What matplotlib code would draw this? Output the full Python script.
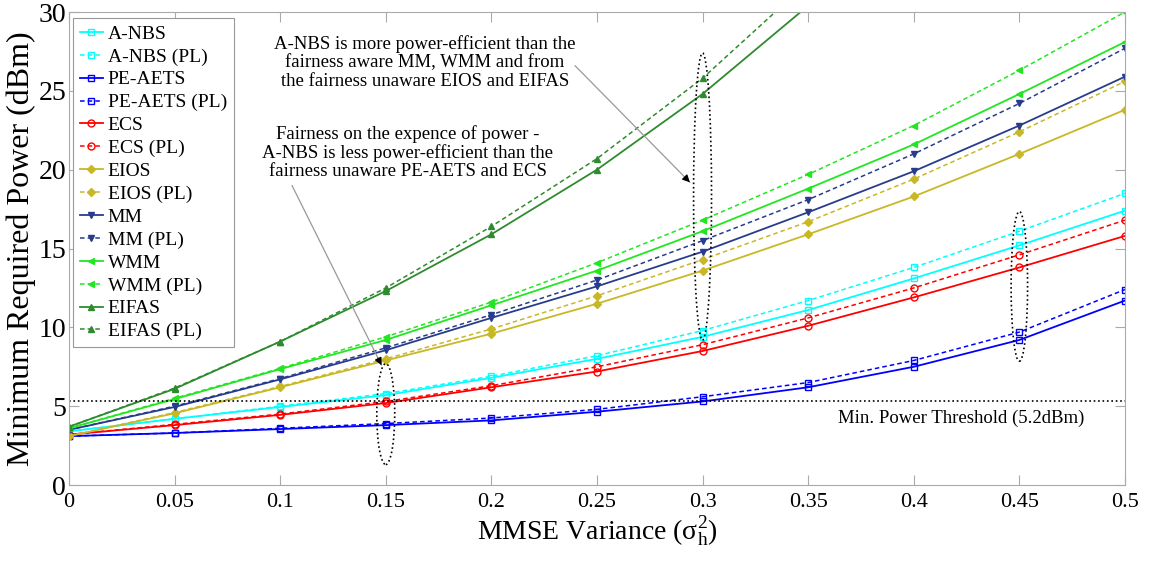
import numpy as np
import matplotlib
matplotlib.use('Agg')
import matplotlib.pyplot as plt
from matplotlib.patches import Ellipse

plt.rcParams['font.family'] = ['Liberation Serif', 'DejaVu Serif']
plt.rcParams['mathtext.fontset'] = 'stix'

x = [0, 0.05, 0.1, 0.15, 0.2, 0.25, 0.3, 0.35, 0.4, 0.45, 0.5]

anbs = [3.4, 4.2, 4.95, 5.7, 6.8, 8.0, 9.4, 11.1, 13.1, 15.2, 17.4]
anbs_pl = [3.4, 4.2, 5.0, 5.8, 6.9, 8.2, 9.8, 11.7, 13.8, 16.1, 18.5]
peaets = [3.1, 3.3, 3.55, 3.8, 4.1, 4.65, 5.3, 6.2, 7.5, 9.2, 11.7]
peaets_pl = [3.1, 3.3, 3.6, 3.9, 4.25, 4.8, 5.6, 6.5, 7.9, 9.7, 12.4]
ecs = [3.2, 3.8, 4.45, 5.2, 6.2, 7.2, 8.5, 10.1, 11.9, 13.8, 15.8]
ecs_pl = [3.2, 3.85, 4.5, 5.3, 6.3, 7.5, 8.9, 10.6, 12.5, 14.6, 16.8]
eios = [3.1, 4.55, 6.2, 7.9, 9.6, 11.5, 13.6, 15.9, 18.3, 21.0, 23.8]
eios_pl = [3.1, 4.6, 6.25, 8.0, 9.9, 12.0, 14.3, 16.7, 19.4, 22.4, 25.6]
mm = [3.5, 4.95, 6.7, 8.55, 10.6, 12.6, 14.8, 17.3, 19.9, 22.8, 25.9]
mm_pl = [3.5, 5.0, 6.75, 8.7, 10.8, 13.0, 15.5, 18.1, 21.0, 24.2, 27.7]
wmm = [3.6, 5.45, 7.35, 9.2, 11.4, 13.6, 16.1, 18.8, 21.6, 24.8, 28.1]
wmm_pl = [3.6, 5.5, 7.4, 9.4, 11.6, 14.1, 16.8, 19.7, 22.8, 26.3, 30.0]
# EIFAS leaves the plot above 30 after 0.3
eifas = [3.7, 6.1, 9.1, 12.3, 15.9, 20.0, 24.8, 30.4, np.nan, np.nan, np.nan]
eifas_pl = [3.7, 6.15, 9.1, 12.5, 16.4, 20.7, 25.8, 31.9, np.nan, np.nan, np.nan]

threshold = 5.3

series = [
    ('A-NBS', anbs, anbs_pl, 'cyan', 's', 'none'),
    ('PE-AETS', peaets, peaets_pl, 'blue', 's', 'none'),
    ('ECS', ecs, ecs_pl, 'red', 'o', 'none'),
    ('EIOS', eios, eios_pl, '#c8b825', 'D', None),
    ('MM', mm, mm_pl, '#283c8c', 'v', None),
    ('WMM', wmm, wmm_pl, '#22e622', '<', None),
    ('EIFAS', eifas, eifas_pl, '#2e8b2e', '^', None),
]

fig = plt.figure(figsize=(11.57, 5.64), dpi=100)
ax = fig.add_axes([0.0596, 0.140, 0.9127, 0.8387])

for name, y, ypl, c, m, fc in series:
    ms = 4.5 if m == 'D' else 5
    ax.plot(x, y, '-', color=c, marker=m, ms=ms, mfc=fc if fc else c,
            mec=c, lw=1.3, label=name)
    ax.plot(x, ypl, '--', color=c, marker=m, ms=ms, mfc=fc if fc else c,
            mec=c, lw=1.1, dashes=(3, 2), label=name + ' (PL)')

ax.axhline(threshold, color='black', ls=':', lw=1.2)
ax.text(0.364, 4.25, 'Min. Power Threshold (5.2dBm)', fontsize=13.5,
        va='center', ha='left')

# dotted ellipses
for cx, cy, w, h in [(0.15, 4.5, 0.0085, 6.4), (0.3, 18.3, 0.0085, 18.2),
                     (0.45, 12.6, 0.0078, 9.5)]:
    ax.add_patch(Ellipse((cx, cy), w, h, fill=False, ls=':', lw=1.2,
                         ec='black', zorder=5))

ax.text(0.1686, 26.8, 'A-NBS is more power-efficient than the\n'
        'fairness aware MM, WMM and from\n'
        'the fairness unaware EIOS and EIFAS',
        ha='center', va='center', fontsize=13.5, linespacing=1.1)
ax.text(0.1605, 21.1, 'Fairness on the expence of power -\n'
        'A-NBS is less power-efficient than the\n'
        'fairness unaware PE-AETS and ECS',
        ha='center', va='center', fontsize=13.5, linespacing=1.1)

# grey arrow shafts with black heads
for (x0, y0), (x1, y1) in [((0.2396, 26.6), (0.294, 19.2)),
                           ((0.1056, 19.0), (0.148, 7.6))]:
    ax.annotate('', xy=(x1, y1), xytext=(x0, y0),
                arrowprops=dict(arrowstyle='-', color='#999999', lw=0.9,
                                shrinkA=0, shrinkB=0))
    xm = x1 - (x1 - x0) * 0.04
    ym = y1 - (y1 - y0) * 0.04
    ax.annotate('', xy=(x1, y1), xytext=(xm, ym),
                arrowprops=dict(arrowstyle='-|>', color='black', lw=0.8,
                                mutation_scale=11, shrinkA=0, shrinkB=0))

ax.set_xlim(0, 0.5)
ax.set_ylim(0, 30)
ax.set_xticks(x)
ax.set_xticklabels(['0', '0.05', '0.1', '0.15', '0.2', '0.25', '0.3',
                    '0.35', '0.4', '0.45', '0.5'])
ax.set_yticks([0, 5, 10, 15, 20, 25, 30])
ax.tick_params(axis='x', labelsize=16, direction='in', top=True,
               length=7, color='#aaaaaa', pad=6)
ax.tick_params(axis='y', labelsize=20, direction='in', right=True,
               length=7, color='#aaaaaa', pad=2)
for s in ax.spines.values():
    s.set_color('#aaaaaa')

ax.set_xlabel(r'MMSE Variance ($\mathregular{\sigma_h^2}$)', fontsize=20,
              labelpad=2)
ax.set_ylabel('Minimum Required Power (dBm)', fontsize=23, labelpad=2)

leg = ax.legend(loc='upper left', fontsize=14, handlelength=1.2,
                labelspacing=0.27, borderpad=0.35, handletextpad=0.25,
                borderaxespad=0.2, fancybox=False, framealpha=1,
                bbox_to_anchor=(0.0, 0.995))
leg.get_frame().set_edgecolor('#999999')
leg.get_frame().set_linewidth(0.8)

fig.savefig('out.png', dpi=100)
